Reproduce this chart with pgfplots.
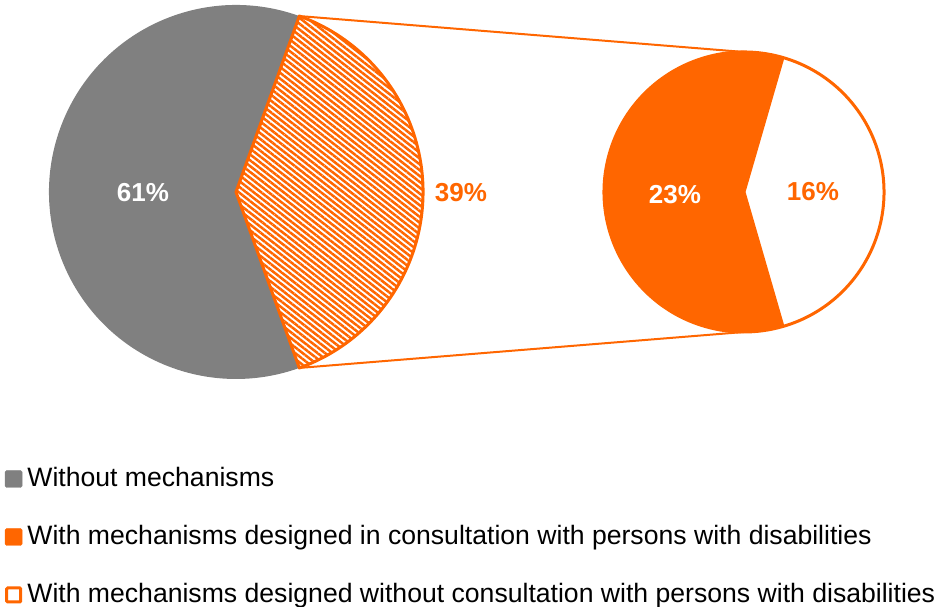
\documentclass[border=0pt]{standalone}
\usepackage{pgfplots}
\pgfplotsset{compat=1.18}
\usetikzlibrary{patterns.meta}
\usepackage{fontspec}
\setmainfont{Liberation Sans}

\definecolor{cgray}{HTML}{808080}
\definecolor{corange}{HTML}{FF6600}

% ----- data (percent) -----
\def\vWithout{61}
\def\vCons{23}
\def\vNoCons{16}

\begin{document}
\begin{tikzpicture}
  % half opening angles of the split slice and of the 16% slice
  \pgfmathsetmacro{\halfA}{(\vCons+\vNoCons)/100*180}
  \pgfmathsetmacro{\halfB}{\vNoCons/(\vCons+\vNoCons)*180}
  \pgfmathsetmacro{\endA}{360-\halfA}
  \pgfmathsetmacro{\endB}{360-\halfB}
  \begin{axis}[
    width=938pt, height=607pt, scale only axis,
    xmin=0, xmax=938, ymin=0, ymax=607,
    hide axis, clip=false,
    legend cell align=left,
    legend style={
      at={(axis cs:5,0.5)}, anchor=south west,
      draw=none, fill=none, inner sep=0pt, outer sep=0pt,
      row sep=35pt, column sep=5pt,
      font=\fontsize{26.6}{30}\selectfont,
      nodes={inner sep=0pt, text height=19pt, text depth=4pt},
    },
  ]
    \coordinate (bl) at (axis cs:0,0);
    \coordinate (tr) at (axis cs:938,607);

    % left pie
    \fill[cgray] (axis cs:236,415) -- ++(\halfA:187pt)
      arc[start angle=\halfA, end angle=\endA, radius=187pt] -- cycle;
    \fill[white] (axis cs:236,415) -- ++(-\halfA:187pt)
      arc[start angle=-\halfA, end angle=\halfA, radius=187pt] -- cycle;
    \filldraw[draw=corange, line width=3pt, line join=round,
      pattern={Lines[angle=-38, distance=4.6pt, line width=2.5pt]}, pattern color=corange]
      (axis cs:236,415) -- ++(-\halfA:187pt)
      arc[start angle=-\halfA, end angle=\halfA, radius=187pt] -- cycle;

    % connector lines
    \draw[corange, line width=2pt] (axis cs:236,415) ++(\halfA:187pt) -- (axis cs:744,555);
    \draw[corange, line width=2pt] (axis cs:236,415) ++(-\halfA:187pt) -- (axis cs:744,275);

    % right pie
    \filldraw[fill=corange, draw=corange, line width=3pt, line join=round]
      (axis cs:744,415) -- ++(\halfB:140pt)
      arc[start angle=\halfB, end angle=\endB, radius=140pt] -- cycle;
    \filldraw[fill=white, draw=corange, line width=3pt, line join=round]
      (axis cs:744,415) -- ++(-\halfB:140pt)
      arc[start angle=-\halfB, end angle=\halfB, radius=140pt] -- cycle;

    % data labels
    \node[anchor=base, text=white, font=\bfseries\fontsize{26}{30}\selectfont]
      at (axis cs:143,405) {\vWithout\%};
    \node[anchor=base, text=corange, font=\bfseries\fontsize{26}{30}\selectfont]
      at (axis cs:461,405) {39\%};
    \node[anchor=base, text=white, font=\bfseries\fontsize{26}{30}\selectfont]
      at (axis cs:675,403) {\vCons\%};
    \node[anchor=base, text=corange, font=\bfseries\fontsize{26}{30}\selectfont]
      at (axis cs:813,406) {\vNoCons\%};

    % legend
    \addlegendimage{legend image code/.code={
      \fill[cgray, rounded corners=1.5pt] (0pt,-8.5pt) rectangle (17pt,8.5pt);}}
    \addlegendentry{Without mechanisms}
    \addlegendimage{legend image code/.code={
      \fill[corange, rounded corners=1.5pt] (0pt,-8.5pt) rectangle (17pt,8.5pt);}}
    \addlegendentry{With mechanisms designed in consultation with persons with disabilities}
    \addlegendimage{legend image code/.code={
      \filldraw[fill=white, draw=corange, line width=3pt, rounded corners=1pt] (1.5pt,-7pt) rectangle (15.5pt,7pt);}}
    \addlegendentry{With mechanisms designed without consultation with persons with disabilities}
  \end{axis}
  \pgfresetboundingbox
  \path[use as bounding box] (bl) rectangle (tr);
\end{tikzpicture}
\end{document}
